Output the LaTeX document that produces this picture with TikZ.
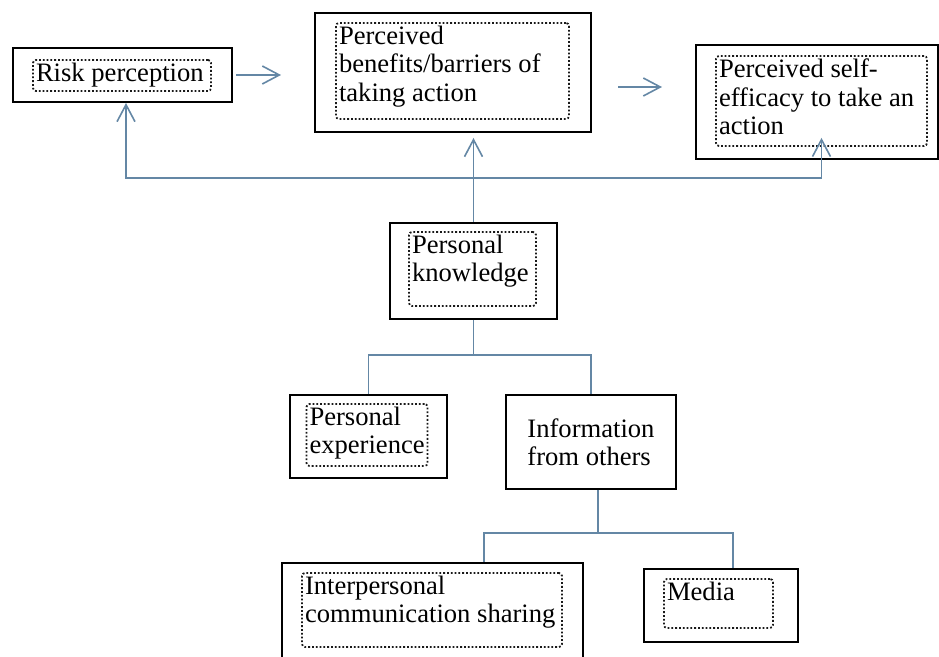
\documentclass[tikz,border=0pt]{standalone}
\usepackage{fontspec}
\setmainfont{Liberation Serif}
\usetikzlibrary{arrows.meta,positioning,calc}
\definecolor{linkblue}{RGB}{100,135,165}
\definecolor{dotgray}{RGB}{25,25,25}
\newcommand{\frametext}[3]{\parbox[c][#2][t]{#1}{\raggedright #3}}

\begin{document}
\begin{tikzpicture}[
  x=0.5pt, y=-0.5pt,
  outerbox/.style={
    rectangle, draw=black, line width=1pt,
    inner sep=0pt, align=left,
    font=\fontsize{13.3}{14.2}\selectfont
  },
  innerbox/.style={
    rectangle, rounded corners=1.5pt,
    draw=dotgray, densely dotted, line width=0.9pt,
    inner sep=1.5pt,
    font=\fontsize{13.3}{14.2}\selectfont
  },
  arr/.style={-{Straight Barb[length=8.5pt,width=9pt]}, line width=0.8pt, color=linkblue},
  tree/.style={line width=0.8pt, color=linkblue}
]
\useasboundingbox (0,0) rectangle (939,657);

\node[outerbox, minimum width=109.5pt, minimum height=27pt] (risk) at (122.5,75) {};
\node[innerbox] (riskin) at (122,75.5) {\frametext{86pt}{12.5pt}{Risk perception}};

\node[outerbox, minimum width=138pt, minimum height=59.5pt] (benefit) at (453,72.5) {};
\node[innerbox] (benefitin) at (452.5,71)
  {\frametext{113.5pt}{45pt}{Perceived\\benefits/barriers of\\taking action}};

\node[outerbox, minimum width=121pt, minimum height=57pt] (selfeff) at (817,102) {};
\node[innerbox] (selfin) at (821.5,101)
  {\frametext{102.5pt}{42pt}{Perceived self-\\efficacy to take an\\action}};

\node[outerbox, minimum width=83.5pt, minimum height=48pt] (know) at (473.5,271) {};
\node[innerbox] (knowin) at (472.5,269) {\frametext{60.5pt}{34pt}{Personal\\knowledge}};

\node[outerbox, minimum width=78.5pt, minimum height=41.5pt] (exper) at (368.5,436.5) {};
\node[innerbox] (experin) at (367,435) {\frametext{57.5pt}{28pt}{Personal\\experience}};

\node[outerbox, minimum width=85pt, minimum height=47pt] (info) at (591,442)
  {Information\\from others};

\node[outerbox, minimum width=150.5pt, minimum height=58.5pt] (interp) at (432.5,621.5) {};
\node[innerbox] (interpin) at (432,610)
  {\frametext{127pt}{34pt}{Interpersonal\\communication sharing}};

\node[outerbox, minimum width=77pt, minimum height=36.5pt] (media) at (721,605.5) {};
\node[innerbox] (mediain) at (718.5,603.5) {\frametext{51.5pt}{21.5pt}{Media}};

\draw[arr, shorten <=1.5pt, shorten >=16.5pt] (risk.east) -- (risk.east -| benefit.west);
\coordinate (bmid) at ($(benefit.east)+(0,14.5)$);
\draw[arr, shorten <=13pt, shorten >=16.5pt] (bmid) -- (bmid -| selfeff.west);

\draw[arr, shorten >=2.5pt] (know.north) -- (know.north |- benefit.south);
\coordinate (feed) at ($(know.north)+(0,-44)$);
\draw[arr] (feed) -| ($(risk.south)+(3.5,0)$);
\draw[arr, shorten >=-4.5pt] (feed) -| (selfin.south);

\coordinate (kfork) at ($(know.south)+(0,35)$);
\draw[tree] (know.south) -- (kfork) -| (exper.north);
\draw[tree] (kfork) -| (info.north);

\coordinate (ifork) at ($(info.south)+(7,43)$);
\draw[tree] (ifork |- info.south) -- (ifork) -| ($(interp.north)+(51.5,0)$);
\draw[tree] (ifork) -| ($(media.north)+(12,0)$);

\end{tikzpicture}
\end{document}
